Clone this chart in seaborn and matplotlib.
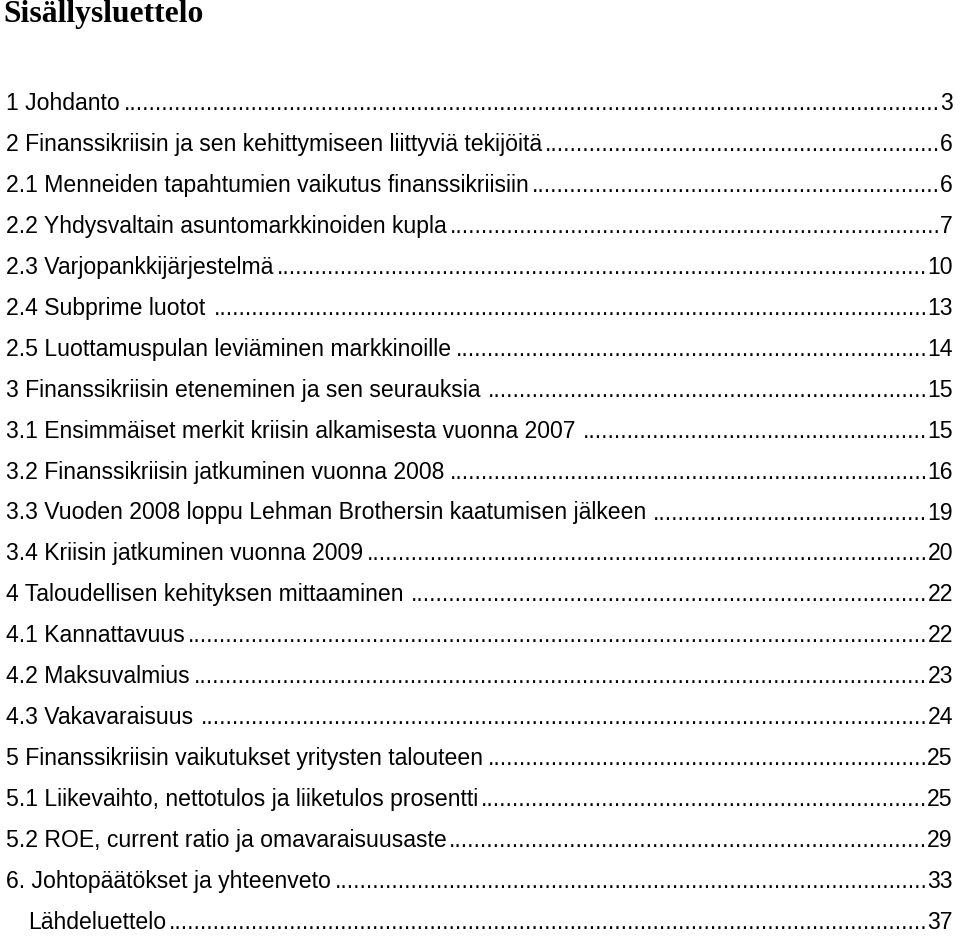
# Sisällysluettelo - uudelleenpiirros matplotlib/seaborn-kirjastolla
import seaborn as sns
import matplotlib.pyplot as plt

# Otsikot, sivunumerot ja sisennys (1 = sisennetty)
otsikot = [
    "1 Johdanto",
    "2 Finanssikriisin ja sen kehittymiseen liittyviä tekijöitä",
    "2.1 Menneiden tapahtumien vaikutus finanssikriisiin",
    "2.2 Yhdysvaltain asuntomarkkinoiden kupla",
    "2.3 Varjopankkijärjestelmä",
    "2.4 Subprime luotot",
    "2.5 Luottamuspulan leviäminen markkinoille",
    "3 Finanssikriisin eteneminen ja sen seurauksia",
    "3.1 Ensimmäiset merkit kriisin alkamisesta vuonna 2007",
    "3.2 Finanssikriisin jatkuminen vuonna 2008",
    "3.3 Vuoden 2008 loppu Lehman Brothersin kaatumisen jälkeen",
    "3.4 Kriisin jatkuminen vuonna 2009",
    "4 Taloudellisen kehityksen mittaaminen",
    "4.1 Kannattavuus",
    "4.2 Maksuvalmius",
    "4.3 Vakavaraisuus",
    "5 Finanssikriisin vaikutukset yritysten talouteen",
    "5.1 Liikevaihto, nettotulos ja liiketulos prosentti",
    "5.2 ROE, current ratio ja omavaraisuusaste",
    "6. Johtopäätökset ja yhteenveto",
    "Lähdeluettelo",
]
sivut = ["3", "6", "6", "7", "10", "13", "14", "15", "15", "16", "19",
         "20", "22", "22", "23", "24", "25", "25", "29", "33", "37"]
sisennys = [0] * 20 + [1]

sns.set_theme(style="white")
plt.rcParams['font.family'] = ['Liberation Sans', 'DejaVu Sans']

fig = plt.figure(figsize=(9.6, 9.36), dpi=100)
ax = fig.add_axes([0, 0, 1, 1])
ax.set_xlim(0, 960)
ax.set_ylim(936, 0)
ax.axis("off")

ax.text(3, 22, "Sisällysluettelo", fontsize=22.8, fontweight="bold",
        family=["Liberation Serif"], va="baseline", ha="left", color="black")

fig.canvas.draw()
renderer = fig.canvas.get_renderer()
inv = ax.transData.inverted()

def leveys(t):
    bb = t.get_window_extent(renderer)
    x0 = inv.transform((bb.x0, bb.y0))[0]
    x1 = inv.transform((bb.x1, bb.y0))[0]
    return x0, x1

koko = 16.6

# pisteen leveys
koe = ax.text(0, -100, "." * 50, fontsize=koko)
px0, px1 = leveys(koe)
piste = (px1 - px0) / 50
koe.remove()

y0, vali = 110, 40.95
for i, (o, s, sis) in enumerate(zip(otsikot, sivut, sisennys)):
    y = y0 + i * vali
    x = 28 if sis else 6
    t = ax.text(x, y, o, fontsize=koko, va="baseline", ha="left", color="black")
    n = ax.text(953, y, s, fontsize=koko, va="baseline", ha="right", color="black")
    _, tx1 = leveys(t)
    nx0, _ = leveys(n)
    maara = int((nx0 - tx1 - 2) / piste)
    ax.text(nx0, y, "." * maara, fontsize=koko, va="baseline", ha="right", color="black")

fig.savefig("out.png", dpi=100)
